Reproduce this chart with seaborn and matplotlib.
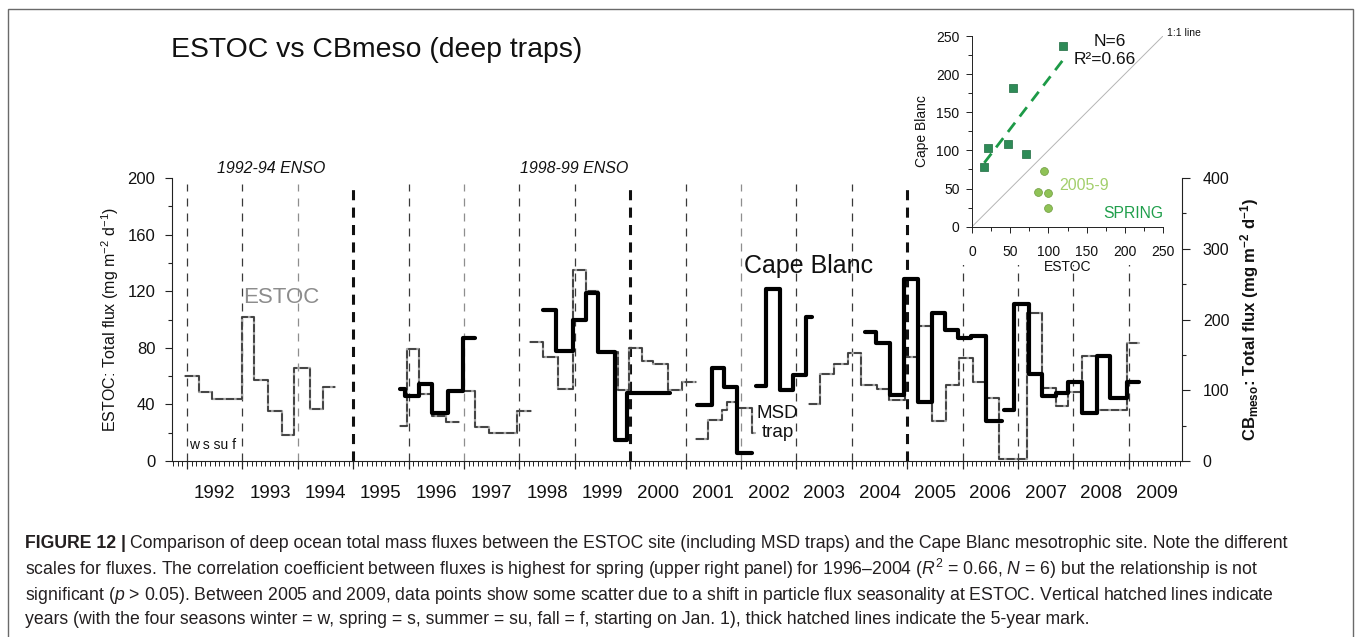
import numpy as np
import pandas as pd
import matplotlib
matplotlib.use("Agg")
import matplotlib.pyplot as plt
from matplotlib.ticker import FixedLocator, MultipleLocator, NullFormatter
from matplotlib.patches import Rectangle
import seaborn as sns

# ---------------------------------------------------------------------------
# Data
# ESTOC deep trap total flux (mg m-2 d-1): sampling-interval edges (decimal
# years) and the flux of each interval, one list per continuous deployment run
estoc_edges = [
    [1991.96, 1992.22, 1992.46, 1992.99, 1993.21, 1993.47, 1993.71, 1993.93, 1994.22, 1994.45, 1994.67],
    [1995.85, 1995.97, 1996.19, 1996.42, 1996.68, 1996.91],
    [1996.99, 1997.19, 1997.45, 1997.95, 1998.21],
    [1998.19, 1998.43, 1998.70, 1998.97, 1999.20, 1999.42, 1999.78, 1999.97, 2000.21, 2000.42,
     2000.69, 2000.93, 2001.19],
    [2003.23, 2003.43, 2003.67, 2003.94, 2004.16, 2004.45, 2004.68, 2004.96, 2005.20, 2005.44,
     2005.70, 2005.94, 2006.18, 2006.42, 2006.66, 2007.16, 2007.44, 2007.68, 2007.91, 2008.16,
     2008.43, 2008.96, 2009.18],
]
estoc_flux = [
    [60, 48.5, 43.8, 102, 57.5, 35.6, 18.1, 65.7, 36.5, 52.5],
    [25, 79.4, 47.1, 31.8, 27.6],
    [49.7, 24.2, 19.6, 35.3],
    [83.9, 73.3, 50.7, 135, 120.4, 77, 50.2, 79.6, 70.9, 68.5, 50.2, 55.6],
    [40.1, 61.3, 68.3, 76.1, 53.7, 50.9, 43, 73.7, 95.4, 28.5, 53.7, 73, 56, 44.7, 1.4,
     104.4, 51.4, 38.9, 49, 74.4, 36.3, 83.6],
]

# MSD trap near ESTOC
msd_edges = [[2001.19, 2001.41, 2001.65, 2001.75, 2001.93, 2002.19, 2002.25]]
msd_flux = [[15.5, 29, 36, 41.5, 37.7, 19.6]]

# Cape Blanc mesotrophic site (right axis)
cb_edges = [
    [1995.85, 1995.94, 1996.19, 1996.43, 1996.72, 1996.98, 1997.20],
    [1998.42, 1998.67, 1998.96, 1999.20, 1999.42, 1999.73, 1999.95, 2000.71],
    [2001.21, 2001.47, 2001.70, 2001.93, 2002.20],
    [2002.27, 2002.45, 2002.70, 2002.94, 2003.17, 2003.29],
    [2004.24, 2004.44, 2004.69, 2004.94, 2005.20, 2005.44, 2005.68, 2005.92, 2006.15, 2006.42, 2006.71],
    [2006.75, 2006.93, 2007.19, 2007.44, 2007.68, 2007.91, 2008.16, 2008.43, 2008.66, 2008.96, 2009.18],
]
cb_flux = [
    [101.3, 92.3, 108.8, 67.4, 99.4, 174.3],
    [213.4, 155.5, 199.3, 237.9, 153.6, 29.7, 95.7],
    [79.2, 131, 105, 10.9],
    [106.4, 243, 100.3, 121.5, 203.1],
    [181.9, 166.3, 93.3, 256.8, 83.8, 209.6, 185.2, 173.4, 177.1, 56.5],
    [72.1, 221.4, 123, 91.9, 95.7, 112.1, 68.3, 148.8, 88.6, 112.1],
]

# Spring fluxes, ESTOC vs Cape Blanc
spring_estoc = [16.1, 20.9, 46.5, 53.5, 70.9, 119.6]
spring_cb = [78.7, 103.6, 108.4, 181.4, 95.3, 237.3]
late_estoc = [94.8, 87.0, 99.1, 99.1]      # 2005-9
late_cb = [73.4, 45.0, 44.6, 24.9]

years = list(range(1992, 2010))
five_year_marks = [1995, 2000, 2005]
light_year_lines = [1994, 1997, 2002]
year_labels = [str(y) for y in years]

caption_lines = [
    "Comparison of deep ocean total mass fluxes between the ESTOC site (including MSD traps) "
    "and the Cape Blanc mesotrophic site. Note the different",
    "scales for fluxes. The correlation coefficient between fluxes is highest for spring "
    "(upper right panel) for 1996\u20132004 ($R^2$ = 0.66, $N$ = 6) but the relationship is not",
    "significant ($p$ > 0.05). Between 2005 and 2009, data points show some scatter due to a "
    "shift in particle flux seasonality at ESTOC. Vertical hatched lines indicate",
    "years (with the four seasons winter = w, spring = s, summer = su, fall = f, starting on "
    "Jan. 1), thick hatched lines indicate the 5-year mark.",
]

# ---------------------------------------------------------------------------
sns.set_theme(style="ticks")
plt.rcParams.update({
    "font.family": ["Liberation Sans", "DejaVu Sans"],
    "mathtext.fontset": "custom",
    "mathtext.rm": "Liberation Sans",
    "mathtext.it": "Liberation Sans:italic",
    "mathtext.bf": "Liberation Sans:bold",
    "text.color": "#111111",
    "axes.labelcolor": "#111111",
    "axes.edgecolor": "#222222",
    "xtick.color": "#222222",
    "ytick.color": "#222222",
    "xtick.labelcolor": "#111111",
    "ytick.labelcolor": "#111111",
})

W, H, DPI = 1358, 637, 100
fig = plt.figure(figsize=(W / DPI, H / DPI), dpi=DPI)
fig.patch.set_facecolor("white")


def fx(px):
    return px / W


def fy(py):
    return 1 - py / H


def stairs_frame(edges_list, flux_list):
    rows = []
    for run, (edges, flux) in enumerate(zip(edges_list, flux_list)):
        for i, v in enumerate(flux):
            rows.append((edges[i], v, run))
            rows.append((edges[i + 1], v, run))
    return pd.DataFrame(rows, columns=["year", "flux", "run"])


ax = fig.add_axes([fx(172), fy(461), fx(1182 - 172), (461 - 178) / H])
ax2 = ax.twinx()

# year marks
for y in years:
    if y in five_year_marks:
        ax.axvline(y, ymax=0.98, color="#111111", lw=2.2, linestyle=(0, (3.3, 2.4)), zorder=1)
    else:
        c = "#8e8e8e" if y in light_year_lines else "#3a3a3a"
        ax.axvline(y, ymax=0.98, color=c, lw=0.9, linestyle=(0, (6.4, 5.6)), zorder=1)

# ESTOC and MSD: light grey body with dark hatching on top
for edges, flux in ((estoc_edges, estoc_flux), (msd_edges, msd_flux)):
    df = stairs_frame(edges, flux)
    sns.lineplot(data=df, x="year", y="flux", units="run", estimator=None, sort=False,
                 color="#a6a6a6", linewidth=1.6, ax=ax, legend=False, zorder=2)
    sns.lineplot(data=df, x="year", y="flux", units="run", estimator=None, sort=False,
                 color="#3c3c3c", linewidth=1.3, linestyle=(0, (4.5, 1.4)), ax=ax,
                 legend=False, zorder=3)

# Cape Blanc on the right axis
sns.lineplot(data=stairs_frame(cb_edges, cb_flux), x="year", y="flux", units="run",
             estimator=None, sort=False, color="black", linewidth=3.0, ax=ax2,
             legend=False, zorder=4)

ax.set_xlim(1991.73, 2009.96)
ax.set_ylim(0, 200)
ax2.set_ylim(0, 400)
ax2.set_xlim(1991.73, 2009.96)

# left axis
ax.yaxis.set_major_locator(MultipleLocator(40))
ax.yaxis.set_minor_locator(MultipleLocator(20))
ax.tick_params(axis="y", which="major", direction="out", length=5, width=0.8, pad=7, labelsize=12)
ax.tick_params(axis="y", which="minor", direction="out", length=3, width=0.8)
ax.set_ylabel(r"ESTOC: Total flux (mg m$^{-2}$ d$^{-1}$)", fontsize=11.5, labelpad=5)

# bottom axis: year boundaries and months, labels centred in each year
ax.xaxis.set_major_locator(FixedLocator(years))
ax.xaxis.set_major_formatter(NullFormatter())
ax.xaxis.set_minor_locator(MultipleLocator(1 / 12))
ax.tick_params(axis="x", which="major", direction="out", length=6, width=0.9)
ax.tick_params(axis="x", which="minor", direction="out", length=3.5, width=0.7)
ax.set_xlabel("")
sec = ax.secondary_xaxis("bottom")
sec.set_xticks([y + 0.5 for y in years], labels=year_labels)
sec.tick_params(axis="x", length=0, pad=17, labelsize=13.5)
sec.spines["bottom"].set_visible(False)

for s in ("top", "right"):
    ax.spines[s].set_visible(False)
ax.spines["left"].set_linewidth(0.8)
ax.spines["bottom"].set_linewidth(0.8)

# right axis
for s in ("top", "left", "bottom"):
    ax2.spines[s].set_visible(False)
ax2.spines["right"].set_linewidth(0.8)
ax2.yaxis.set_major_locator(MultipleLocator(100))
ax2.yaxis.set_minor_locator(MultipleLocator(50))
ax2.tick_params(axis="y", which="major", direction="out", length=6, width=0.8, pad=9, labelsize=11.5)
ax2.tick_params(axis="y", which="minor", direction="out", length=3, width=0.8)
ax2.set_ylabel(r"CB$_{\mathbf{meso}}$: Total flux (mg m$^{\mathbf{-2}}$ d$^{\mathbf{-1}}$)",
               fontsize=12, fontweight="bold", labelpad=6)
ax2.set_xlabel("")

# annotations
ax.text(1993.70, 115.2, "ESTOC", color="#8c8c8c", fontsize=16, ha="center", va="center")
ax.text(2003.22, 137.8, "Cape Blanc", color="#111111", fontsize=18, ha="center", va="center")
ax.text(2002.66, 26.6, "MSD\ntrap", fontsize=13.5, ha="center", va="center", linespacing=1.15)
ax.text(1992.04, 11.3, "w s su f", fontsize=10, ha="left", va="center")
ax.text(1993.52, 207, "1992-94 ENSO", fontsize=11.5, style="italic", ha="center", va="center",
        clip_on=False)
ax.text(1998.99, 207, "1998-99 ENSO", fontsize=11.5, style="italic", ha="center", va="center",
        clip_on=False)

# white ground for the inset panel and its labels
fig.add_artist(Rectangle((fx(912), fy(265)), fx(1176 - 912), (265 - 14) / H,
                         transform=fig.transFigure, facecolor="white", edgecolor="none",
                         zorder=1))

# inset: spring fluxes
axin = fig.add_axes([fx(972), fy(226.7), fx(1163 - 972), (226.7 - 36) / H], zorder=2)
axin.set_facecolor("white")
axin.axline((0, 0), slope=1, color="#b5b5b5", lw=0.7, zorder=1)
sns.regplot(x=spring_estoc, y=spring_cb, scatter=False, ci=None, ax=axin,
            line_kws=dict(color="#1d9a47", lw=2.0, linestyle=(0, (4.2, 2.8))))
sns.scatterplot(x=spring_estoc, y=spring_cb, marker="s", s=38, color="#2e8b57",
                edgecolor="#1d6a3f", linewidth=0.5, ax=axin, zorder=3)
sns.scatterplot(x=late_estoc, y=late_cb, marker="o", s=32, color="#8fc256",
                edgecolor="#6b9a3b", linewidth=0.5, ax=axin, zorder=3)
axin.set_xlim(0, 250)
axin.set_ylim(0, 250)
for s in ("top", "right"):
    axin.spines[s].set_visible(False)
axin.spines["left"].set_linewidth(0.7)
axin.spines["bottom"].set_linewidth(0.7)
axin.xaxis.set_major_locator(MultipleLocator(50))
axin.xaxis.set_minor_locator(MultipleLocator(25))
axin.yaxis.set_major_locator(MultipleLocator(50))
axin.yaxis.set_minor_locator(MultipleLocator(25))
axin.tick_params(axis="both", which="both", direction="out", width=0.7, labelsize=10)
axin.tick_params(axis="both", which="major", length=4)
axin.tick_params(axis="both", which="minor", length=3)
axin.tick_params(axis="x", which="major", pad=9)
axin.tick_params(axis="y", which="major", pad=5)
axin.set_xlabel("ESTOC", fontsize=10, labelpad=1)
axin.set_ylabel("Cape Blanc", fontsize=10, labelpad=5)
axin.text(181, 242.5, "N=6", fontsize=12.5, ha="center", va="center", clip_on=False)
axin.text(173.5, 219.8, "R\u00b2=0.66", fontsize=12.5, ha="center", va="center", clip_on=False)
axin.text(146.5, 53.8, "2005-9", fontsize=11.5, color="#a3cf6c", ha="center", va="center")
axin.text(210.5, 17.6, "SPRING", fontsize=11.3, color="#1f9e4b", ha="center", va="center",
          clip_on=False)
axin.text(278, 254.4, "1:1 line", fontsize=7.5, ha="center", va="center", clip_on=False)

# title
fig.text(fx(171), fy(50), "ESTOC vs CBmeso (deep traps)", fontsize=20.4, ha="left", va="center")

# figure frame
fig.add_artist(Rectangle((fx(8), -0.02), fx(1353 - 8), fy(9) + 0.02, transform=fig.transFigure,
                         fill=False, edgecolor="#6a6a6a", lw=1.0, zorder=5))

# caption
cap_fs = 12.7
cap_color = "#231f20"
cap_y = [544, 569, 595, 620]
head = fig.text(fx(25), fy(cap_y[0]), "FIGURE 12 |", fontsize=cap_fs, fontweight="bold",
                color=cap_color, ha="left", va="center")
fig.canvas.draw()
bb = head.get_window_extent(fig.canvas.get_renderer())
fig.text((bb.x1 + 4) / W, fy(cap_y[0]), caption_lines[0], fontsize=cap_fs, color=cap_color,
         ha="left", va="center")
for line, yy in zip(caption_lines[1:], cap_y[1:]):
    fig.text(fx(25), fy(yy), line, fontsize=cap_fs, color=cap_color, ha="left", va="center")

fig.savefig("out.png", dpi=DPI)
